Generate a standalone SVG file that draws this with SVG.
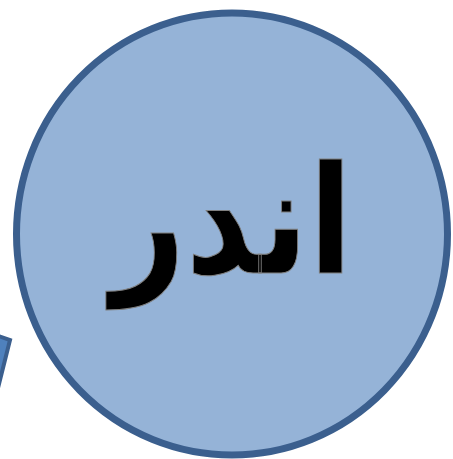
<svg xmlns="http://www.w3.org/2000/svg" width="453" height="459" viewBox="0 0 453 459">
<style>
.c{fill:#95b3d7;stroke:#3b5f8e;stroke-width:7}
.t{font-family:"DejaVu Sans",sans-serif;font-weight:bold;fill:#000;stroke:#7f7f7f;stroke-width:1}
.s{fill:#4f81bd;stroke:#3b5f8e;stroke-width:4}
</style>
<g id="shape-left">
<polygon class="s" points="-30,326 10,340 -6,404 -46,390"/>
</g>
<g id="node-circle">
<ellipse class="c" cx="232" cy="234" rx="215.5" ry="221"/>
<text class="t" x="0" y="0" font-size="150" text-anchor="middle" direction="rtl" transform="translate(232,273) scale(0.86,1)">اندر</text>
</g>
<g id="connectors"/>
</svg>
